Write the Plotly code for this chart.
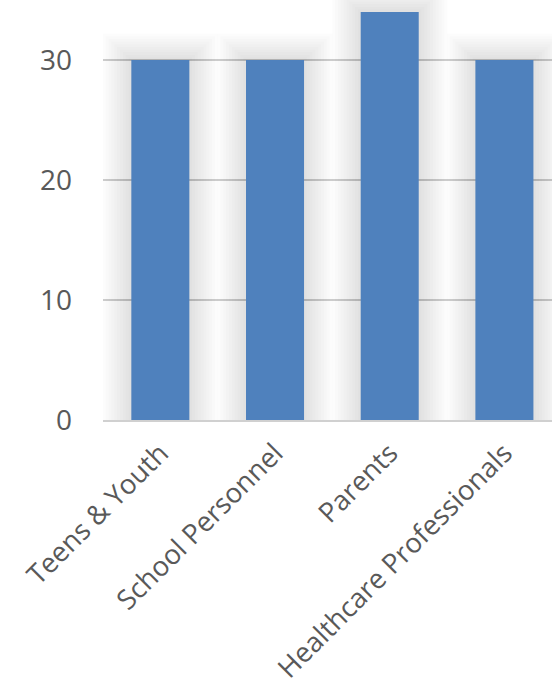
import plotly.graph_objects as go

categories = ["Teens & Youth", "School Personnel", "Parents", "Healthcare Professionals"]
values = [30, 30, 34, 30]
y_ticks = [0, 10, 20, 30]

BAR_COLOR = "#4F81BD"
TEXT_COLOR = "#595959"
BAR_WIDTH = 0.506

fig = go.Figure()

# soft glow / shadow layers behind bars
n_layers = 10
for i in range(n_layers, 0, -1):
    extra_w = 0.05 * i
    extra_h = 0.22 * i
    fig.add_trace(go.Bar(
        x=categories,
        y=[v + extra_h for v in values],
        width=[BAR_WIDTH + extra_w] * len(categories),
        marker=dict(color="rgba(0,0,0,0.013)", line=dict(width=0)),
        hoverinfo="skip",
        showlegend=False,
    ))

fig.add_trace(go.Bar(
    x=categories,
    y=values,
    width=[BAR_WIDTH] * len(categories),
    marker=dict(color=BAR_COLOR, line=dict(width=0)),
    showlegend=False,
))

fig.update_layout(
    width=552,
    height=685,
    margin=dict(l=103, r=0, t=0, b=265),
    barmode="overlay",
    plot_bgcolor="white",
    paper_bgcolor="white",
    font=dict(family="Open Sans", color=TEXT_COLOR),
    xaxis=dict(
        range=[-0.5, 3.415],
        tickangle=-45,
        tickfont=dict(size=27.5, color=TEXT_COLOR),
        showgrid=False,
        showline=True,
        linecolor="#d0d0d0",
        linewidth=2,
        ticks="",
        ticklabelstandoff=4,
    ),
    yaxis=dict(
        range=[0, 35],
        tickvals=y_ticks,
        tickfont=dict(size=28, color=TEXT_COLOR),
        showgrid=True,
        gridcolor="#cfcfcf",
        gridwidth=2,
        zeroline=False,
        showline=False,
        ticks="",
        ticklabelstandoff=30,
    ),
)

fig.write_html(
    "out.html",
    config={"displayModeBar": False},
    post_script="document.body.style.margin='0';document.body.style.overflow='hidden';",
)
